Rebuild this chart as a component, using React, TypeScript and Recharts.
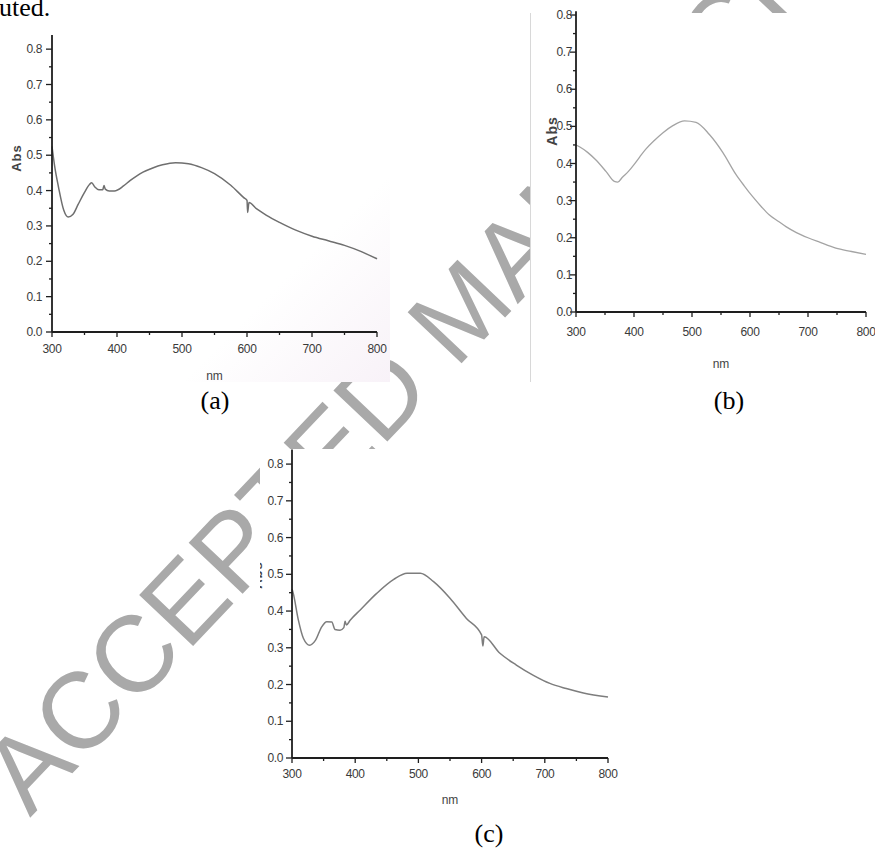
import React from 'react';
import { LineChart, Line, XAxis, YAxis, Label } from 'recharts';

// (a)
const nmA = [300, 304, 310, 318, 325, 332, 340, 350, 358, 361, 366, 372, 378, 380, 382, 388, 396, 410, 420, 430, 440, 455, 470, 490, 510, 530, 550, 575, 595, 600, 601, 603, 615, 630, 650, 675, 700, 725, 750, 775, 800];
const absA = [0.525, 0.47, 0.41, 0.345, 0.325, 0.332, 0.36, 0.395, 0.418, 0.422, 0.41, 0.402, 0.402, 0.414, 0.404, 0.399, 0.399, 0.413, 0.428, 0.441, 0.452, 0.464, 0.473, 0.479, 0.476, 0.465, 0.448, 0.415, 0.38, 0.372, 0.338, 0.366, 0.348, 0.33, 0.31, 0.288, 0.271, 0.258, 0.245, 0.228, 0.207];

// (b)
const nmB = [300, 306, 320, 334, 352, 366, 372, 380, 390, 400, 410, 420, 435, 450, 467, 487, 507, 530, 553, 576, 590, 605, 620, 633, 650, 662, 680, 700, 720, 748, 775, 800];
const absB = [0.45, 0.445, 0.43, 0.41, 0.378, 0.352, 0.35, 0.363, 0.378, 0.397, 0.418, 0.438, 0.462, 0.483, 0.502, 0.515, 0.511, 0.478, 0.43, 0.37, 0.34, 0.31, 0.283, 0.262, 0.243, 0.23, 0.214, 0.2, 0.188, 0.172, 0.163, 0.155];

// (c)
const nmC = [300, 302, 310, 318, 328, 337, 347, 355, 363, 368, 376, 382, 384, 386, 392, 408, 434, 461, 482, 503, 524, 550, 576, 600, 602, 604, 629, 655, 682, 708, 734, 761, 800];
const absC = [0.46, 0.448, 0.376, 0.326, 0.307, 0.32, 0.357, 0.371, 0.37, 0.35, 0.348, 0.355, 0.372, 0.362, 0.375, 0.403, 0.448, 0.486, 0.503, 0.503, 0.48, 0.435, 0.38, 0.335, 0.305, 0.33, 0.285, 0.253, 0.225, 0.203, 0.189, 0.177, 0.166];

const xTicks = [300, 350, 400, 450, 500, 550, 600, 650, 700, 750, 800];
const yTicks = [0, 0.05, 0.1, 0.15, 0.2, 0.25, 0.3, 0.35, 0.4, 0.45, 0.5, 0.55, 0.6, 0.65, 0.7, 0.75, 0.8];

const toRows = (nm: number[], abs: number[]) => nm.map((v, i) => ({ nm: v, abs: abs[i] }));

const tickFont = '"Liberation Sans", Arial, sans-serif';
const axisColor = '#1e1e1e';

type Panel = {
  rows: { nm: number; abs: number }[];
  left: number;
  top: number;
  width: number;
  height: number;
  plot: { l: number; r: number; t: number; b: number };
  yMax: number;
  stroke: string;
  strokeWidth: number;
  xLabelDy: number;
  xTickDy: number;
  yTickGap: number;
  absLabel?: { x: number; y: number; size: number };
};

function makeXTick(dy: number) {
  return (props: any) => {
    const { x, y, payload } = props;
    const v = payload.value;
    const major = v % 100 === 0;
    return (
      <g>
        <line x1={x} x2={x} y1={y} y2={y + (major ? 5 : 3)} stroke={axisColor} strokeWidth={1.3} />
        {major && (
          <text x={x} y={y + dy} textAnchor="middle" dominantBaseline="central" fontSize={12} fontFamily={tickFont} fill="#3a3a3a" letterSpacing={-0.4}>
            {v}
          </text>
        )}
      </g>
    );
  };
}

function makeYTick(gap: number) {
  return (props: any) => {
    const { x, y, payload } = props;
    const v = payload.value;
    const major = Math.round(v * 100) % 10 === 0;
    return (
      <g>
        <line x1={x} x2={x - (major ? 6 : 3)} y1={y} y2={y} stroke={axisColor} strokeWidth={1.3} />
        {major && (
          <text x={x - gap} y={y} textAnchor="end" dominantBaseline="central" fontSize={12} fontFamily={tickFont} fill="#3a3a3a" letterSpacing={-0.4}>
            {v.toFixed(1)}
          </text>
        )}
      </g>
    );
  };
}

function Spectrum({ p }: { p: Panel }) {
  const yAxisWidth = p.plot.l - p.left;
  const xAxisHeight = p.top + p.height - p.plot.b;
  return (
    <div style={{ position: 'absolute', left: p.left, top: p.top }}>
      <LineChart
        width={p.width}
        height={p.height}
        data={p.rows}
        margin={{ top: p.plot.t - p.top, right: p.left + p.width - p.plot.r, left: 0, bottom: 0 }}
      >
        <XAxis
          dataKey="nm"
          type="number"
          domain={[300, 800]}
          ticks={xTicks}
          interval={0}
          height={xAxisHeight}
          tickSize={0}
          tickMargin={0}
          tickLine={false}
          stroke={axisColor}
          strokeWidth={1.8}
          tick={makeXTick(p.xTickDy)}
        >
          <Label
            content={(lp: any) => {
              const vb = lp.viewBox;
              return (
                <text x={vb.x + vb.width / 2} y={vb.y + p.xLabelDy} textAnchor="middle" dominantBaseline="central" fontSize={12} fontFamily={tickFont} fill="#444">
                  nm
                </text>
              );
            }}
          />
        </XAxis>
        <YAxis
          type="number"
          domain={[0, p.yMax]}
          ticks={yTicks}
          interval={0}
          width={yAxisWidth}
          tickSize={0}
          tickMargin={0}
          tickLine={false}
          stroke={axisColor}
          strokeWidth={1.8}
          allowDataOverflow
          tick={makeYTick(p.yTickGap)}
        >
          {p.absLabel && (
            <Label
              content={() => {
                const a = p.absLabel!;
                const x = a.x - p.left;
                const y = a.y - p.top;
                return (
                  <text x={x} y={y} transform={`rotate(-90 ${x} ${y})`} textAnchor="middle" fontSize={a.size} fontWeight="bold" fontFamily={tickFont} fill="#444" letterSpacing={1}>
                    Abs
                  </text>
                );
              }}
            />
          )}
        </YAxis>
        <Line
          type="monotone"
          dataKey="abs"
          stroke={p.stroke}
          strokeWidth={p.strokeWidth}
          dot={false}
          isAnimationActive={false}
        />
      </LineChart>
    </div>
  );
}

const panelA: Panel = {
  rows: toRows(nmA, absA),
  left: 0, top: 0, width: 400, height: 400,
  plot: { l: 52, r: 377, t: 35, b: 332 },
  yMax: 0.84,
  stroke: '#6f6f6f',
  strokeWidth: 1.5,
  xLabelDy: 44,
  xTickDy: 17,
  yTickGap: 10,
  absLabel: { x: 20.5, y: 158, size: 13 },
};

const panelB: Panel = {
  rows: toRows(nmB, absB),
  left: 520, top: 0, width: 380, height: 400,
  plot: { l: 576, r: 866, t: 11.3, b: 312 },
  yMax: 0.81,
  stroke: '#a4a4a4',
  strokeWidth: 1.3,
  xLabelDy: 52,
  xTickDy: 20,
  yTickGap: 4,
  absLabel: { x: 557, y: 131, size: 14 },
};

const panelC: Panel = {
  rows: toRows(nmC, absC),
  left: 260, top: 440, width: 380, height: 400,
  plot: { l: 292, r: 608, t: 449.4, b: 758 },
  yMax: 0.84,
  stroke: '#7d7d7d',
  strokeWidth: 1.5,
  xLabelDy: 42,
  xTickDy: 16,
  yTickGap: 9,
  absLabel: { x: 262, y: 575, size: 13 },
};

const caption: React.CSSProperties = {
  position: 'absolute',
  fontFamily: '"Liberation Serif", "Times New Roman", serif',
  fontSize: 26,
  color: '#000',
  lineHeight: '30px',
  transform: 'translate(-50%, -50%)',
  whiteSpace: 'nowrap',
};

export default function App() {
  return (
    <div style={{ position: 'absolute', left: 0, top: 0, width: 875, height: 849, overflow: 'hidden', background: '#fff' }}>
      <svg width={875} height={849} style={{ position: 'absolute', left: 0, top: 0 }}>
        <text
          x={30}
          y={818}
          transform="rotate(-46.5 30 818)"
          fontSize={108}
          fontFamily={tickFont}
          fill="#a9a9a9"
        >
          ACCEPTED MANUSCRIPT
        </text>
      </svg>

      <div style={{ position: 'absolute', left: 8, top: 20, width: 382, height: 362, background: 'linear-gradient(135deg, #ffffff 72%, #f8f2f8 100%)' }} />
      <div style={{ position: 'absolute', left: 530, top: 13, width: 345, height: 369, background: '#fff', borderLeft: '1px solid #d8d8d8' }} />
      <div style={{ position: 'absolute', left: 260, top: 449, width: 390, height: 363, background: '#fff' }} />

      <Spectrum p={panelA} />
      <Spectrum p={panelB} />
      <Spectrum p={panelC} />

      <div style={{ ...caption, left: -1, top: -7, transform: 'none' }}>uted.</div>
      <div style={{ ...caption, left: 215, top: 401 }}>(a)</div>
      <div style={{ ...caption, left: 729, top: 401 }}>(b)</div>
      <div style={{ ...caption, left: 489, top: 834 }}>(c)</div>
    </div>
  );
}
